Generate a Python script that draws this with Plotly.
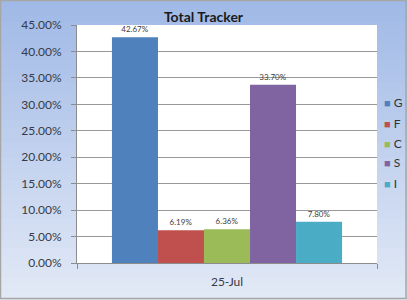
import plotly.graph_objects as go

categories = ["25-Jul"]
series_names = ["G", "F", "C", "S", "I"]
series_values = [0.4267, 0.0619, 0.0636, 0.3370, 0.0780]
series_colors = ["#4f81bd", "#c0504d", "#9bbb59", "#8064a2", "#4bacc6"]
y_tick_vals = [0, 0.05, 0.10, 0.15, 0.20, 0.25, 0.30, 0.35, 0.40, 0.45]

W, H = 407, 300
L, R, T, B = 77, 30, 25, 37
pw, ph = W - L - R, H - T - B

fig = go.Figure()
for name, val, col in zip(series_names, series_values, series_colors):
    fig.add_trace(go.Bar(
        x=categories, y=[val], name=name, marker_color=col,
        marker_line_width=0, showlegend=False,
        text=[f"{val*100:.2f}%"], textposition="outside",
        textfont=dict(size=8, color="#404040", family="Lato"),
        cliponaxis=False,
    ))

def px_to_paper_x(px):
    return (px - L) / pw

def px_to_paper_y(py):
    return (H - B - py) / ph

# gradient background via shapes
top = (160, 185, 230)
bot = (226, 233, 246)
n = 40
shapes = []
for i in range(n):
    t = i / (n - 1)
    c = tuple(int(round(top[k] + (bot[k] - top[k]) * t)) for k in range(3))
    y0 = i * H / n
    y1 = (i + 1) * H / n + 0.6
    shapes.append(dict(type="rect", xref="paper", yref="paper",
                       x0=px_to_paper_x(0), x1=px_to_paper_x(W),
                       y0=px_to_paper_y(y1), y1=px_to_paper_y(y0),
                       fillcolor=f"rgb{c}", line_width=0, layer="below"))
shapes.append(dict(type="rect", xref="paper", yref="paper", x0=0, x1=1, y0=0, y1=1,
                   fillcolor="white", line_width=0, layer="below"))
shapes.append(dict(type="rect", xref="paper", yref="paper",
                   x0=px_to_paper_x(0.5), x1=px_to_paper_x(W - 1),
                   y0=px_to_paper_y(H - 1.5), y1=px_to_paper_y(0.5),
                   fillcolor="rgba(0,0,0,0)", line=dict(color="#a6a6a6", width=1.5), layer="above"))

# legend as annotations (colored square + name)
annotations = []
for i, (name, col) in enumerate(zip(series_names, series_colors)):
    annotations.append(dict(
        xref="paper", yref="paper", x=px_to_paper_x(382), y=px_to_paper_y(103 + 20 * i),
        xanchor="left", yanchor="middle", showarrow=False,
        text=f"<span style='color:{col};font-size:11px'>■</span> {name}",
        font=dict(size=12, color="#333333", family="Lato"),
    ))

fig.update_layout(
    width=W, height=H,
    margin=dict(l=L, r=R, t=T, b=B, autoexpand=False),
    paper_bgcolor="rgb(190,206,236)",
    plot_bgcolor="white",
    shapes=shapes,
    annotations=annotations,
    barmode="group", bargap=0.233, bargroupgap=0,
    font=dict(family="Lato", size=12, color="#333333"),
    title=dict(text="<b>Total Tracker</b>", x=0.5, xref="container", xanchor="center",
               y=1 - 17 / H, yref="container", yanchor="middle",
               font=dict(size=14, color="#1a1a1a", family="Lato")),
    showlegend=False,
    yaxis=dict(range=[0, 0.45], tickvals=y_tick_vals, tickformat=".2%",
               showgrid=True, gridcolor="#999999", gridwidth=1,
               showline=True, linecolor="#8c8c8c", linewidth=1,
               ticks="outside", ticklen=5, tickcolor="#8c8c8c",
               zeroline=False,
               tickfont=dict(size=12, color="#353a48",
                             family="Liberation Sans Narrow, Lato"),
               ticklabelstandoff=7),
    xaxis=dict(showline=True, linecolor="#8c8c8c", linewidth=1,
               ticks="outside", tickson="boundaries", ticklen=5, tickcolor="#8c8c8c",
               tickfont=dict(size=12, color="#353a48"),
               ticklabelstandoff=8),
)

fig.write_html("out.html")
